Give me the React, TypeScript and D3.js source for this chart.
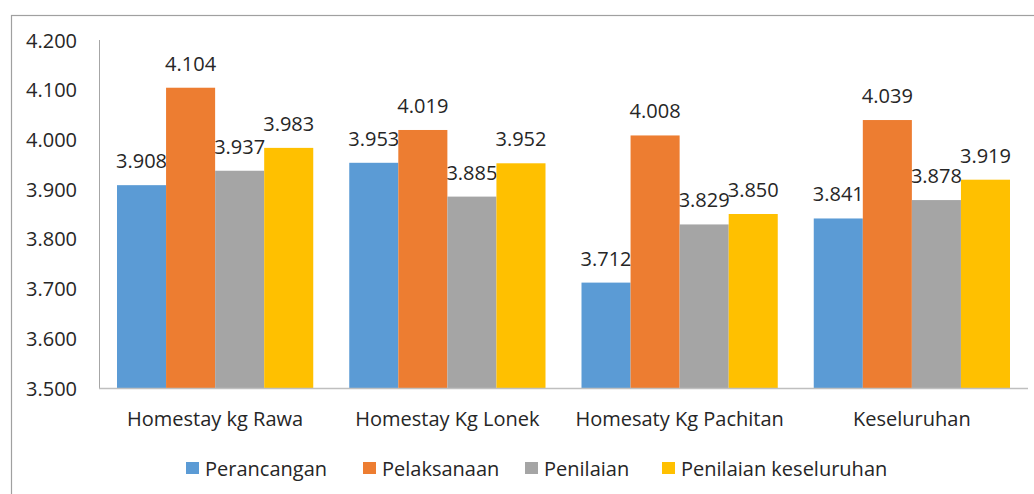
import React from "react";
import * as d3 from "d3";

const categories = ["Homestay kg Rawa", "Homestay Kg Lonek", "Homesaty Kg Pachitan", "Keseluruhan"];
const seriesNames = ["Perancangan", "Pelaksanaan", "Penilaian", "Penilaian keseluruhan"];
const seriesColors = ["#5B9BD5", "#ED7D31", "#A5A5A5", "#FFC000"];
const perancangan = [3.908, 3.953, 3.712, 3.841];
const pelaksanaan = [4.104, 4.019, 4.008, 4.039];
const penilaian = [3.937, 3.885, 3.829, 3.878];
const penilaianKeseluruhan = [3.983, 3.952, 3.85, 3.919];
const yTicks = [3.5, 3.6, 3.7, 3.8, 3.9, 4.0, 4.1, 4.2];

const seriesValues = [perancangan, pelaksanaan, penilaian, penilaianKeseluruhan];

const W = 1034;
const H = 494;
const FONT = "'Open Sans', 'Liberation Sans', sans-serif";
const TEXT = "#262626";
const FS = 20;

export default function App() {
  const left = 99;
  const right = 1028;
  const top = 40;
  const bottom = 388;

  const x0 = d3.scaleBand<string>().domain(categories).range([left, right]).paddingInner(0).paddingOuter(0);
  const x1 = d3
    .scaleBand<string>()
    .domain(seriesNames)
    .range([18, x0.bandwidth() - 18])
    .padding(0);
  const y = d3.scaleLinear().domain([3.5, 4.2]).range([bottom, top]);
  const fmt = d3.format(".3f");

  const legendX = [186, 363, 525, 662];

  return (
    <svg
      width={W}
      height={H}
      style={{ position: "absolute", left: 0, top: 0, background: "#fff" }}
      fontFamily={FONT}
    >
      <rect x={11.5} y={15.5} width={W + 10} height={H + 10} fill="#fff" stroke="#A0A0A0" strokeWidth={1.2} />
      {/* y axis labels */}
      {yTicks.map((t) => (
        <text key={t} x={77} y={y(t)} textAnchor="end" dominantBaseline="central" fontSize={FS} fill={TEXT}>
          {fmt(t)}
        </text>
      ))}
      {/* bars */}
      {categories.map((c, ci) => (
        <g key={c}>
          {seriesNames.map((s, si) => {
            const v = seriesValues[si][ci];
            const bx = (x0(c) as number) + (x1(s) as number);
            const bw = x1.bandwidth();
            return (
              <g key={s}>
                <rect x={bx} y={y(v)} width={bw} height={bottom - y(v)} fill={seriesColors[si]} />
                <text x={bx + bw / 2} y={y(v) - 17} textAnchor="middle" fontSize={FS} fill={TEXT}>
                  {fmt(v)}
                </text>
              </g>
            );
          })}
          <text
            x={(x0(c) as number) + x0.bandwidth() / 2}
            y={418}
            textAnchor="middle"
            dominantBaseline="central"
            fontSize={FS}
            fill={TEXT}
          >
            {c}
          </text>
        </g>
      ))}
      {/* axes */}
      <line x1={left + 0.5} x2={left + 0.5} y1={top} y2={bottom} stroke="#A6A6A6" strokeWidth={1} />
      <line x1={left} x2={right} y1={bottom + 0.5} y2={bottom + 0.5} stroke="#BFBFBF" strokeWidth={1.5} />
      {/* legend */}
      {seriesNames.map((s, i) => (
        <g key={s}>
          <rect x={legendX[i]} y={462} width={13} height={12} fill={seriesColors[i]} />
          <text x={legendX[i] + 19} y={468} dominantBaseline="central" fontSize={FS} fill={TEXT}>
            {s}
          </text>
        </g>
      ))}
    </svg>
  );
}
